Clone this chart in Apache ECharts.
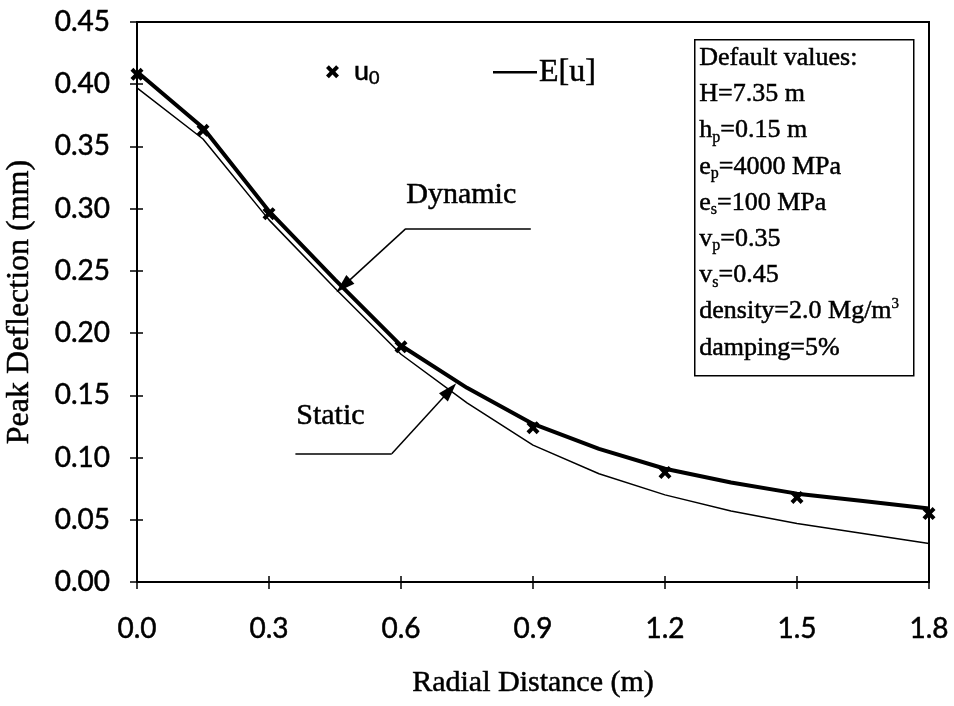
<!DOCTYPE html>
<html><head><meta charset="utf-8">
<script src="https://cdn.jsdelivr.net/npm/echarts@6/dist/echarts.min.js"></script>
<style>html,body{margin:0;padding:0;background:#fff}#c{width:954px;height:706px}</style>
</head><body><div id="c"></div>
<script>
// Data
const xLine = [0, 0.15, 0.3, 0.45, 0.6, 0.75, 0.9, 1.05, 1.2, 1.35, 1.5, 1.65, 1.8];
const dynamicLine = [0.410, 0.365, 0.298, 0.243, 0.190, 0.156, 0.127, 0.107, 0.091, 0.080, 0.071, 0.065, 0.059];
const staticLine = [0.397, 0.356, 0.291, 0.236, 0.183, 0.144, 0.110, 0.087, 0.070, 0.057, 0.047, 0.039, 0.031];
const xU0 = [0, 0.15, 0.3, 0.6, 0.9, 1.2, 1.5, 1.8];
const u0 = [0.408, 0.363, 0.296, 0.189, 0.124, 0.088, 0.068, 0.055];
const xTicks = [0.0, 0.3, 0.6, 0.9, 1.2, 1.5, 1.8];
const yTicks = [0.00, 0.05, 0.10, 0.15, 0.20, 0.25, 0.30, 0.35, 0.40, 0.45];
// annotation leader lines (data coords)
const dynLeader = [[0.895, 0.284], [0.611, 0.284], [0.469, 0.238]];
const staLeader = [[0.360, 0.103], [0.579, 0.103], [0.711, 0.154]];
const infoLines = [
  '{a|Default values:}',
  '{a|H=7.35 m}',
  '{a|h}{s|p}{a|=0.15 m}',
  '{a|e}{s|p}{a|=4000 MPa}',
  '{a|e}{s|s}{a|=100 MPa}',
  '{a|v}{s|p}{a|=0.35}',
  '{a|v}{s|s}{a|=0.45}',
  '{a|density=2.0 Mg/m}{u|3}',
  '{a|damping=5%}'
];

const serif = '"Liberation Serif", "Times New Roman", serif';
const tickFont = 'Lato, "Open Sans", sans-serif';
const xPath = 'path://M0,2.2L2.2,0L5,2.8L7.8,0L10,2.2L7.2,5L10,7.8L7.8,10L5,7.2L2.2,10L0,7.8L2.8,5Z';
const linePath = 'path://M0,0H46V2.5H0Z';
const ink = {textBorderColor: '#000', textBorderWidth: 0.5};

const chart = echarts.init(document.getElementById('c'), null, {renderer: 'canvas'});
const pairs = (xs, ys) => xs.map((x, i) => [x, ys[i]]);
const leaderSeg = (pts) => [
  [{coord: pts[0], symbol: 'none'}, {coord: pts[1], symbol: 'none'}],
  [{coord: pts[1], symbol: 'none'}, {coord: pts[2], symbol: 'triangle', symbolSize: [12, 19]}]
];

const axisCommon = {
  axisLine: {show: true, lineStyle: {color: '#000', width: 2}},
  splitLine: {show: false}
};

const option = {
  animation: false,
  backgroundColor: '#fff',
  grid: {left: 137, right: 25, top: 22, bottom: 124, show: true, borderColor: '#000', borderWidth: 2,
         containLabel: false, outerBoundsMode: 'none'},
  legend: [
    {data: [{name: 'u0', icon: xPath}], left: 326, top: 58, padding: 0, itemWidth: 13, itemHeight: 13, itemGap: 4,
     formatter: () => '{b|u}{s|0}',
     textStyle: {padding: [0, 0, 0, 10], rich: {b: Object.assign({fontFamily: tickFont, fontSize: 27, color: '#000'}, ink),
                        s: Object.assign({fontFamily: tickFont, fontSize: 18, color: '#000', padding: [12, 0, 0, 0]}, ink)}}},
    {data: [{name: 'E[u]', icon: linePath}], left: 493, top: 56, padding: 0, itemWidth: 44, itemHeight: 3, itemGap: 4,
     textStyle: Object.assign({fontFamily: serif, fontSize: 32, color: '#000', padding: [0, 0, 0, -3]}, ink)}
  ],
  xAxis: [
    Object.assign({}, axisCommon, {
      type: 'value', min: 0, max: 1.8, interval: 0.3,
      axisTick: {show: true, length: 7, lineStyle: {color: '#000', width: 1.5}},
      axisLabel: Object.assign({margin: 33, fontFamily: tickFont, fontSize: 28, color: '#000', formatter: v => v.toFixed(1)}, ink),
      name: 'Radial Distance (m)', nameLocation: 'middle', nameGap: 86,
      nameTextStyle: Object.assign({fontFamily: serif, fontSize: 30, color: '#000'}, ink)
    }),
    Object.assign({}, axisCommon, {
      type: 'value', min: 0, max: 1.8, interval: 0.3, position: 'bottom',
      axisTick: {show: true, inside: true, length: 6, lineStyle: {color: '#000', width: 1.5}},
      axisLabel: {show: false}
    })
  ],
  yAxis: [
    Object.assign({}, axisCommon, {
      type: 'value', min: 0, max: 0.45, interval: 0.05,
      axisTick: {show: true, length: 7, lineStyle: {color: '#000', width: 1.5}},
      axisLabel: Object.assign({margin: 27, fontFamily: tickFont, fontSize: 28, color: '#000', formatter: v => v.toFixed(2)}, ink),
      name: 'Peak Deflection (mm)', nameLocation: 'middle', nameGap: 101,
      nameTextStyle: Object.assign({fontFamily: serif, fontSize: 32, color: '#000'}, ink)
    }),
    Object.assign({}, axisCommon, {
      type: 'value', min: 0, max: 0.45, interval: 0.05, position: 'left',
      axisTick: {show: true, inside: true, length: 6, lineStyle: {color: '#000', width: 1.5}},
      axisLabel: {show: false}
    })
  ],
  series: [
    {name: 'Static', type: 'line', data: pairs(xLine, staticLine), symbol: 'none',
     itemStyle: {color: '#000'}, lineStyle: {color: '#000', width: 1.5},
     markLine: {silent: true, symbol: 'none', lineStyle: {color: '#000', width: 1.5, type: 'solid'}, label: {show: false},
       data: leaderSeg(staLeader)}},
    {name: 'E[u]', type: 'line', data: pairs(xLine, dynamicLine), symbol: 'none',
     itemStyle: {color: '#000'}, lineStyle: {color: '#000', width: 4},
     markLine: {silent: true, symbol: 'none', lineStyle: {color: '#000', width: 1.5, type: 'solid'}, label: {show: false},
       data: leaderSeg(dynLeader)}},
    {name: 'u0', type: 'scatter', data: pairs(xU0, u0), symbol: xPath, symbolSize: 13,
     itemStyle: {color: '#000', opacity: 1}, z: 5}
  ],
  graphic: [
    {type: 'text', left: 406, top: 180, style: Object.assign({text: 'Dynamic', font: '30px ' + serif, fill: '#000', stroke: '#000', lineWidth: 0.5})},
    {type: 'text', left: 296, top: 401, style: Object.assign({text: 'Static', font: '30px ' + serif, fill: '#000', stroke: '#000', lineWidth: 0.5})},
    {type: 'rect', left: 694, top: 39, shape: {width: 219, height: 336}, style: {fill: '#fff', stroke: '#000', lineWidth: 1.5}},
    {type: 'text', left: 699, top: 45, style: {
      text: infoLines.join('\n'),
      rich: {
        a: {fontFamily: serif, fontSize: 26, fill: '#000', lineHeight: 36.2, stroke: '#000', lineWidth: 0.5},
        s: {fontFamily: serif, fontSize: 16, fill: '#000', padding: [14, 0, 0, 0], stroke: '#000', lineWidth: 0.4},
        u: {fontFamily: serif, fontSize: 15, fill: '#000', padding: [0, 0, 16, 0], stroke: '#000', lineWidth: 0.4}
      }
    }}
  ]
};
chart.setOption(option);
</script></body></html>
